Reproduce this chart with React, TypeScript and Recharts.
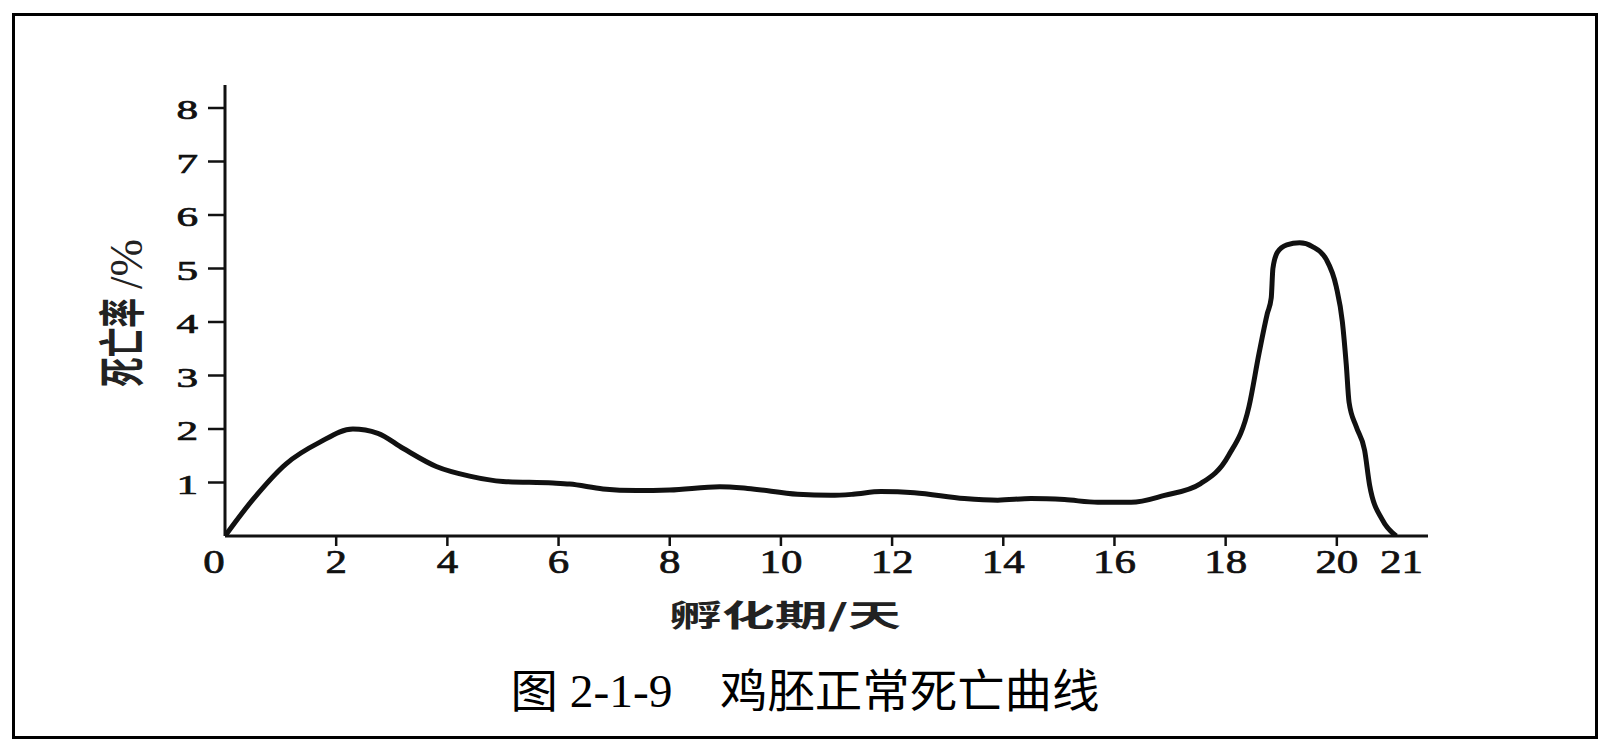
import React from 'react'
import { LineChart, Line, XAxis, YAxis } from 'recharts'

// incubation day (x) and mortality % (y)
const days = [
  0, 0.5, 1.1, 1.7, 2.3, 2.75, 3.2, 3.8, 4.4, 5.0, 5.9, 6.2, 6.8, 7.4, 8.0, 8.9, 9.4,
  10.3, 10.9, 11.3, 11.8, 12.4, 13.3, 13.9, 14.5, 15.1, 15.7, 16.3, 16.9, 17.55, 18.05,
  18.42, 18.6, 18.75, 18.82, 18.85, 18.93, 19.1, 19.33, 19.56, 19.81, 19.99, 20.1,
  20.17, 20.22, 20.35, 20.5, 20.59, 20.82, 21.07,
]
const rate = [
  0, 0.68, 1.35, 1.75, 2.0, 1.92, 1.64, 1.3, 1.12, 1.02, 0.99, 0.97, 0.88, 0.85, 0.86, 0.92, 0.89,
  0.78, 0.76, 0.78, 0.83, 0.81, 0.7, 0.67, 0.7, 0.68, 0.63, 0.63, 0.76, 0.98, 1.5,
  2.42, 3.41, 4.16, 4.45, 5.0, 5.3, 5.44, 5.48, 5.41, 5.17, 4.66, 4.0,
  3.2, 2.5, 2.04, 1.6, 0.95, 0.3, 0,
]

const xTicks = [0, 2, 4, 6, 8, 10, 12, 14, 16, 18, 20, 21]
const yTicks = [1, 2, 3, 4, 5, 6, 7, 8]

const xTitle = '孵化期/天'
const yTitle = '死亡率'
const yUnit = '/%'
const caption = '图 2-1-9\u3000鸡胚正常死亡曲线'

const data = days.map((d, i) => ({ day: d, rate: rate[i] }))

const INK = '#111'
const SERIF = '"Liberation Serif", "Times New Roman", serif'
const CJK = '"Noto Sans CJK SC", "Noto Sans", sans-serif'

function XTick(props: any) {
  const { x, y, payload } = props
  const v = payload.value
  // 0 and 21 labels are nudged away from their neighbours in the source
  const nudge = v === 0 ? -11 : v === 21 ? 9 : 0
  const showLine = v !== 0 && v !== 21
  return (
    <g>
      {showLine && <line x1={x} x2={x} y1={y} y2={y + 10} stroke={INK} strokeWidth={2.5} />}
      <text
        transform={`translate(${x + nudge},${y + 37}) scale(1.3,1)`}
        textAnchor="middle"
        fontFamily={SERIF}
        fontSize={33}
        fill={INK}
        stroke={INK}
        strokeWidth={0.7}
      >
        {v}
      </text>
    </g>
  )
}

function YTick(props: any) {
  const { x, y, payload } = props
  return (
    <g>
      <line x1={x - 17} x2={x} y1={y} y2={y} stroke={INK} strokeWidth={2.5} />
      <text
        transform={`translate(${x - 27},${y + 11}) scale(1.6,1)`}
        textAnchor="end"
        fontFamily={SERIF}
        fontSize={27}
        fill={INK}
        stroke={INK}
        strokeWidth={0.7}
      >
        {payload.value}
      </text>
    </g>
  )
}

export default function App() {
  return (
    <div style={{ position: 'absolute', left: 0, top: 0, width: 1600, height: 742, background: '#fff' }}>
      <LineChart
        width={1600}
        height={742}
        data={data}
        margin={{ top: 85, right: 172, bottom: 205, left: 0 }}
        style={{ position: 'absolute', left: 0, top: 0 }}
      >
        <XAxis
          type="number"
          dataKey="day"
          domain={[0, 21.64]}
          ticks={xTicks}
          interval={0}
          height={1}
          tickSize={0}
          tickMargin={0}
          tickLine={false}
          tick={<XTick />}
          axisLine={{ stroke: INK, strokeWidth: 3 }}
          allowDataOverflow
        />
        <YAxis
          type="number"
          domain={[0, 8.43]}
          ticks={yTicks}
          interval={0}
          width={225}
          tickSize={0}
          tickMargin={0}
          tickLine={false}
          tick={<YTick />}
          axisLine={{ stroke: INK, strokeWidth: 3 }}
          allowDataOverflow
        />
        <Line
          type="monotone"
          dataKey="rate"
          stroke={INK}
          strokeWidth={5}
          dot={false}
          activeDot={false}
          isAnimationActive={false}
        />
      </LineChart>
      <svg width={1600} height={742} style={{ position: 'absolute', left: 0, top: 0, pointerEvents: 'none' }}>
        <text
          x={785}
          y={613}
          textAnchor="middle"
          dominantBaseline="central"
          fontFamily={CJK}
          fontWeight={700}
          fontSize={30}
          textLength={232}
          lengthAdjust="spacingAndGlyphs"
          fill="#222"
        >
          {xTitle}
        </text>
        <text
          transform="translate(119,342.5) scale(1.55,1) rotate(-90)"
          textAnchor="middle"
          dominantBaseline="central"
          fontFamily={CJK}
          fontWeight={700}
          fontSize={30}
          textLength={89}
          lengthAdjust="spacingAndGlyphs"
          fill="#222"
        >
          {yTitle}
        </text>
        <text
          transform="translate(127,264) scale(1.15,1) rotate(-90)"
          textAnchor="middle"
          dominantBaseline="central"
          fontFamily={SERIF}
          fontSize={40}
          textLength={50}
          lengthAdjust="spacingAndGlyphs"
          fill="#222"
        >
          {yUnit}
        </text>
        <text
          x={805}
          y={691}
          textAnchor="middle"
          dominantBaseline="central"
          fontFamily={`${SERIF}, ${CJK}`}
          fontSize={46}
          textLength={589}
          lengthAdjust="spacingAndGlyphs"
          fill="#000"
        >
          {caption}
        </text>
      </svg>
      <div
        style={{
          position: 'absolute',
          left: 12,
          top: 13,
          width: 1586,
          height: 726,
          border: '3px solid #000',
          boxSizing: 'border-box',
        }}
      />
    </div>
  )
}
